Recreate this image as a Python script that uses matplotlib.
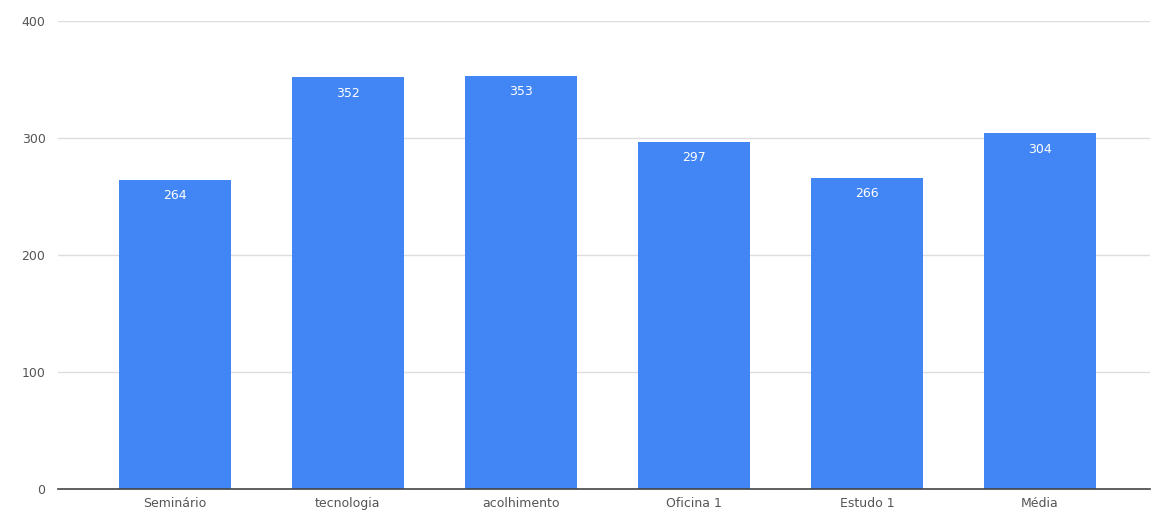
import matplotlib
matplotlib.use('Agg')
import matplotlib.pyplot as plt

# Dados
categorias = ['Seminário', 'tecnologia', 'acolhimento', 'Oficina 1', 'Estudo 1', 'Média']
valores = [264, 352, 353, 297, 266, 304]
y_ticks = [0, 100, 200, 300, 400]

BAR_COLOR = '#4285F4'

fig = plt.figure(figsize=(11.55, 5.2), dpi=100)
fig.patch.set_facecolor('white')
ax = fig.add_axes([0.0502, 0.0596, 0.9455, 0.90])

x = list(range(len(categorias)))
bars = ax.bar(x, valores, width=0.65, color=BAR_COLOR, zorder=2)

# rótulos brancos dentro do topo de cada barra
for b, v in zip(bars, valores):
    ax.text(b.get_x() + b.get_width() / 2, v - 8, str(v),
            ha='center', va='top', fontsize=9, color='white', zorder=3)

ax.set_xlim(-0.676, 5.636)
ax.set_ylim(0, 400)
ax.set_yticks(y_ticks)
ax.set_xticks(x)
ax.set_xticklabels(categorias)
ax.tick_params(axis='both', length=0, labelsize=9, colors='#555555')
ax.tick_params(axis='y', pad=9)
ax.tick_params(axis='x', pad=6)
ax.grid(axis='y', color='#dddddd', linewidth=1, zorder=0)
for s in ['top', 'right', 'left']:
    ax.spines[s].set_visible(False)
ax.spines['bottom'].set_color('#444444')
ax.spines['bottom'].set_linewidth(1.2)
ax.spines['bottom'].set_zorder(3)

fig.savefig('out.png', dpi=100)
